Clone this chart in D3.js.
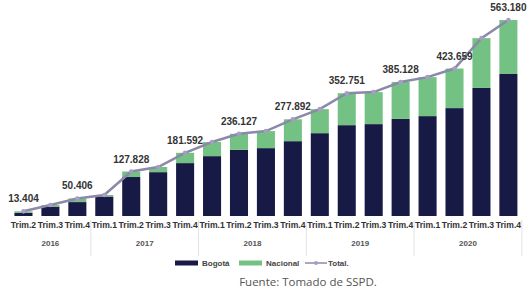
<!DOCTYPE html>
<html>
<head>
<meta charset="utf-8">
<script src="https://cdn.jsdelivr.net/npm/d3@7"></script>
<style>
  body { margin: 0; background: #fff; }
  svg { display: block; font-family: "Liberation Sans", Arial, sans-serif; }
</style>
</head>
<body>
<div id="chart"></div>
<script>
// quarters and their years
var quarters = ["Trim.2","Trim.3","Trim.4",
                "Trim.1","Trim.2","Trim.3","Trim.4",
                "Trim.1","Trim.2","Trim.3","Trim.4",
                "Trim.1","Trim.2","Trim.3","Trim.4",
                "Trim.1","Trim.2","Trim.3","Trim.4"];
var years = ["2016","2016","2016",
             "2017","2017","2017","2017",
             "2018","2018","2018","2018",
             "2019","2019","2019","2019",
             "2020","2020","2020","2020"];

// series values
var bogota   = [9500, 27000, 40000, 56000, 112000, 126000, 152000, 172000, 190000, 195000,
                215000, 238000, 261000, 264000, 279000, 287000, 310000, 368000, 408000];
var nacional = [3904, 4600, 10406, 4300, 15828, 14800, 29592, 40600, 46127, 49000,
                62892, 69000, 91751, 92000, 106128, 112000, 113659, 143000, 155180];
var total    = [13404, 31600, 50406, 60300, 127828, 140800, 181592, 212600, 236127, 244000,
                277892, 307000, 352751, 356000, 385128, 399000, 423659, 511000, 563180];

var fmt = function(v) { return d3.format(",")(v).replace(/,/g, "."); };

var width = 529, height = 299;
var baseY = 216;

var svg = d3.select("#chart").append("svg")
    .attr("width", width)
    .attr("height", height);

var idx = d3.range(quarters.length);

var x = d3.scaleBand()
    .domain(idx)
    .range([10, 10 + 19 * 26.94])
    .paddingInner(0.33)
    .paddingOuter(0.165);

var y = d3.scaleLinear()
    .domain([0, 563180])
    .range([baseY, 20]);

var stackData = idx.map(function(i) {
    return {i: i, "Bogotá": bogota[i], "Nacional": nacional[i]};
});
var stack = d3.stack().keys(["Bogotá", "Nacional"]);
var colors = {"Bogotá": "#161a45", "Nacional": "#74c283"};

svg.append("g").selectAll("g")
    .data(stack(stackData))
    .enter().append("g")
    .attr("fill", function(d) { return colors[d.key]; })
    .selectAll("rect")
    .data(function(d) { return d; })
    .enter().append("rect")
    .attr("x", function(d) { return x(d.data.i); })
    .attr("y", function(d) { return y(d[1]); })
    .attr("width", x.bandwidth())
    .attr("height", function(d) { return y(d[0]) - y(d[1]); });

// quarter labels
var axis = d3.axisBottom(x)
    .tickSize(0)
    .tickPadding(6)
    .tickFormat(function(i) { return quarters[i]; });

var gx = svg.append("g")
    .attr("transform", "translate(0," + baseY + ")")
    .call(axis);
gx.select(".domain").remove();
gx.selectAll("text")
    .attr("fill", "#333")
    .style("font-size", "8.6px")
    .style("font-weight", "bold")
    .style("font-family", "'Liberation Sans', Arial, sans-serif");

// year groups
var yearNames = Array.from(new Set(years));
var groups = yearNames.map(function(yr) {
    var ii = idx.filter(function(i) { return years[i] === yr; });
    return {year: yr, first: ii[0], last: ii[ii.length - 1]};
});
var step = x.step();

svg.append("g").selectAll("line")
    .data(groups)
    .enter().append("line")
    .attr("x1", function(g) { return x(g.last) + x.bandwidth() / 2 + step / 2; })
    .attr("x2", function(g) { return x(g.last) + x.bandwidth() / 2 + step / 2; })
    .attr("y1", baseY + 4)
    .attr("y2", 256)
    .attr("stroke", "#e2e2e2")
    .attr("stroke-width", 1);

svg.append("g").selectAll("text")
    .data(groups)
    .enter().append("text")
    .attr("x", function(g) { return (x(g.first) + x(g.last) + x.bandwidth()) / 2; })
    .attr("y", 246)
    .attr("text-anchor", "middle")
    .attr("fill", "#555")
    .style("font-size", "8px")
    .style("font-weight", "bold")
    .text(function(g) { return g.year; });

// total line
var line = d3.line()
    .x(function(i) { return x(i) + x.bandwidth() / 2; })
    .y(function(i) { return y(total[i]); });

svg.append("path")
    .datum(idx)
    .attr("d", line)
    .attr("fill", "none")
    .attr("stroke", "#8c88a8")
    .attr("stroke-width", 2.5);

svg.append("g").selectAll("circle")
    .data(idx)
    .enter().append("circle")
    .attr("cx", function(i) { return x(i) + x.bandwidth() / 2; })
    .attr("cy", function(i) { return y(total[i]); })
    .attr("r", 2.3)
    .attr("fill", "#a59dc6");

// value labels on every second quarter
svg.append("g").selectAll("text")
    .data(idx.filter(function(i) { return i % 2 === 0; }))
    .enter().append("text")
    .attr("x", function(i) { return x(i) + x.bandwidth() / 2; })
    .attr("y", function(i) { return y(total[i]) - 9; })
    .attr("text-anchor", "middle")
    .attr("fill", "#333")
    .style("font-size", "10px")
    .style("font-weight", "bold")
    .text(function(i) { return fmt(total[i]); });

// legend
var legend = svg.append("g").attr("transform", "translate(0,263)");
legend.append("rect").attr("x", 175).attr("y", -2.5).attr("width", 23).attr("height", 5).attr("fill", colors["Bogotá"]);
legend.append("text").attr("x", 202).attr("y", 3).text("Bogotá");
legend.append("rect").attr("x", 239).attr("y", -2.5).attr("width", 23).attr("height", 5).attr("fill", colors["Nacional"]);
legend.append("text").attr("x", 266).attr("y", 3).text("Nacional");
legend.append("line").attr("x1", 305).attr("x2", 327).attr("y1", 0).attr("y2", 0)
    .attr("stroke", "#8c88a8").attr("stroke-width", 1.5);
legend.append("circle").attr("cx", 316).attr("cy", 0).attr("r", 2).attr("fill", "#a59dc6");
legend.append("text").attr("x", 328).attr("y", 3).text("Total.");
legend.selectAll("text")
    .attr("fill", "#444")
    .style("font-size", "8px")
    .style("font-weight", "bold");

// source
svg.append("text")
    .attr("x", 308)
    .attr("y", 286)
    .attr("text-anchor", "middle")
    .attr("fill", "#555")
    .style("font-family", "'Open Sans', 'Noto Sans', sans-serif")
    .style("font-size", "11.5px")
    .text("Fuente: Tomado de SSPD.");
</script>
</body>
</html>
